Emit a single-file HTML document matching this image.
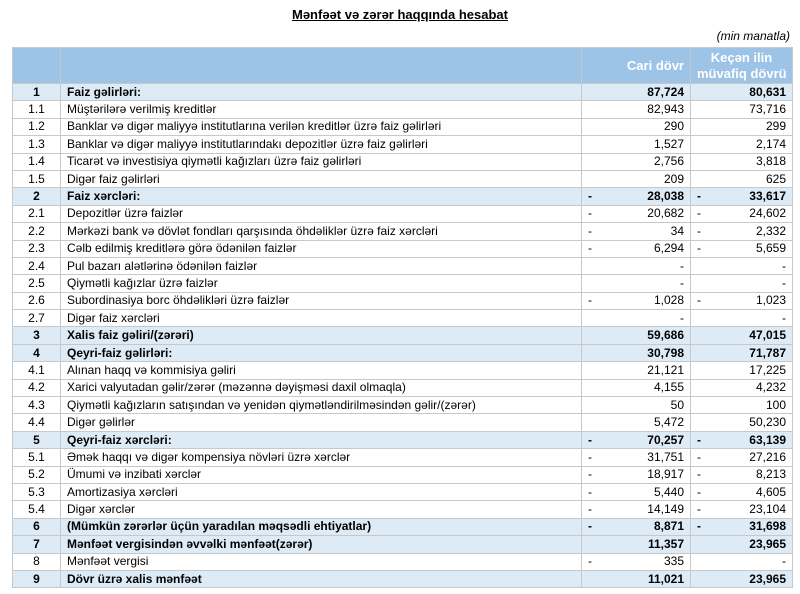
<!DOCTYPE html>
<html><head><meta charset="utf-8"><style>
body{margin:0;width:800px;height:594px;background:#fff;font-family:"Liberation Sans",Arial,sans-serif;color:#000;position:relative;overflow:hidden}
.t{position:absolute;left:0;width:800px;top:7px;text-align:center;font-size:13px;font-weight:bold;text-decoration:underline}
.u{position:absolute;right:10px;top:29px;font-size:12px;font-style:italic}
table{position:absolute;left:12px;top:47px;border-collapse:collapse;table-layout:fixed;width:780px}
td{border:1px solid #c8c8c8;font-size:12px;height:16.4px;padding:0 6px;white-space:nowrap;overflow:hidden;line-height:15px}
tr.h td{background:#9dc3e6;color:#fff;font-weight:bold;font-size:13px;height:35px;text-align:right;line-height:16px}
td.c{text-align:center}
td.n{text-align:right;position:relative}
td.n i{position:absolute;left:6px;font-style:normal}
tr.b td{background:#ddebf7;font-weight:bold}
td:first-child{padding:0;position:relative}
</style></head><body>
<div class="t">Mənfəət və zərər haqqında hesabat</div>
<div class="u">(min manatla)</div>
<table>
<colgroup><col style="width:48px"><col style="width:521px"><col style="width:109px"><col style="width:102px"></colgroup>
<tr class="h"><td></td><td></td><td>Cari dövr</td><td style="text-align:center">Keçən ilin<br>müvafiq dövrü</td></tr>
<tr class="b"><td class="c">1</td><td>Faiz gəlirləri:</td><td class="n">87,724</td><td class="n">80,631</td></tr>
<tr><td class="c">1.1</td><td>Müştərilərə verilmiş kreditlər</td><td class="n">82,943</td><td class="n">73,716</td></tr>
<tr><td class="c">1.2</td><td>Banklar və digər maliyyə institutlarına verilən kreditlər üzrə faiz gəlirləri</td><td class="n">290</td><td class="n">299</td></tr>
<tr><td class="c">1.3</td><td>Banklar və digər maliyyə institutlarındakı depozitlər üzrə faiz gəlirləri</td><td class="n">1,527</td><td class="n">2,174</td></tr>
<tr><td class="c">1.4</td><td>Ticarət və investisiya qiymətli kağızları üzrə faiz gəlirləri</td><td class="n">2,756</td><td class="n">3,818</td></tr>
<tr><td class="c">1.5</td><td>Digər faiz gəlirləri</td><td class="n">209</td><td class="n">625</td></tr>
<tr class="b"><td class="c">2</td><td>Faiz xərcləri:</td><td class="n"><i>-</i>28,038</td><td class="n"><i>-</i>33,617</td></tr>
<tr><td class="c">2.1</td><td>Depozitlər üzrə faizlər</td><td class="n"><i>-</i>20,682</td><td class="n"><i>-</i>24,602</td></tr>
<tr><td class="c">2.2</td><td>Mərkəzi bank və dövlət fondları qarşısında öhdəliklər üzrə faiz xərcləri</td><td class="n"><i>-</i>34</td><td class="n"><i>-</i>2,332</td></tr>
<tr><td class="c">2.3</td><td>Cəlb edilmiş kreditlərə görə ödənilən faizlər</td><td class="n"><i>-</i>6,294</td><td class="n"><i>-</i>5,659</td></tr>
<tr><td class="c">2.4</td><td>Pul bazarı alətlərinə ödənilən faizlər</td><td class="n">-</td><td class="n">-</td></tr>
<tr><td class="c">2.5</td><td>Qiymətli kağızlar üzrə faizlər</td><td class="n">-</td><td class="n">-</td></tr>
<tr><td class="c">2.6</td><td>Subordinasiya borc öhdəlikləri üzrə faizlər</td><td class="n"><i>-</i>1,028</td><td class="n"><i>-</i>1,023</td></tr>
<tr><td class="c">2.7</td><td>Digər faiz xərcləri</td><td class="n">-</td><td class="n">-</td></tr>
<tr class="b"><td class="c">3</td><td>Xalis faiz gəliri/(zərəri)</td><td class="n">59,686</td><td class="n">47,015</td></tr>
<tr class="b"><td class="c">4</td><td>Qeyri-faiz gəlirləri:</td><td class="n">30,798</td><td class="n">71,787</td></tr>
<tr><td class="c">4.1</td><td>Alınan haqq və kommisiya gəliri</td><td class="n">21,121</td><td class="n">17,225</td></tr>
<tr><td class="c">4.2</td><td>Xarici valyutadan gəlir/zərər (məzənnə dəyişməsi daxil olmaqla)</td><td class="n">4,155</td><td class="n">4,232</td></tr>
<tr><td class="c">4.3</td><td>Qiymətli kağızların satışından və yenidən qiymətləndirilməsindən gəlir/(zərər)</td><td class="n">50</td><td class="n">100</td></tr>
<tr><td class="c">4.4</td><td>Digər gəlirlər</td><td class="n">5,472</td><td class="n">50,230</td></tr>
<tr class="b"><td class="c">5</td><td>Qeyri-faiz xərcləri:</td><td class="n"><i>-</i>70,257</td><td class="n"><i>-</i>63,139</td></tr>
<tr><td class="c">5.1</td><td>Əmək haqqı və digər kompensiya növləri üzrə xərclər</td><td class="n"><i>-</i>31,751</td><td class="n"><i>-</i>27,216</td></tr>
<tr><td class="c">5.2</td><td>Ümumi və inzibati xərclər</td><td class="n"><i>-</i>18,917</td><td class="n"><i>-</i>8,213</td></tr>
<tr><td class="c">5.3</td><td>Amortizasiya xərcləri</td><td class="n"><i>-</i>5,440</td><td class="n"><i>-</i>4,605</td></tr>
<tr><td class="c">5.4</td><td>Digər xərclər</td><td class="n"><i>-</i>14,149</td><td class="n"><i>-</i>23,104</td></tr>
<tr class="b"><td class="c">6</td><td>(Mümkün zərərlər üçün yaradılan məqsədli ehtiyatlar)</td><td class="n"><i>-</i>8,871</td><td class="n"><i>-</i>31,698</td></tr>
<tr class="b"><td class="c">7</td><td>Mənfəət vergisindən əvvəlki mənfəət(zərər)</td><td class="n">11,357</td><td class="n">23,965</td></tr>
<tr><td class="c">8</td><td>Mənfəət vergisi</td><td class="n"><i>-</i>335</td><td class="n">-</td></tr>
<tr class="b"><td class="c">9</td><td>Dövr üzrə xalis mənfəət</td><td class="n">11,021</td><td class="n">23,965</td></tr>
</table>
</body></html>
